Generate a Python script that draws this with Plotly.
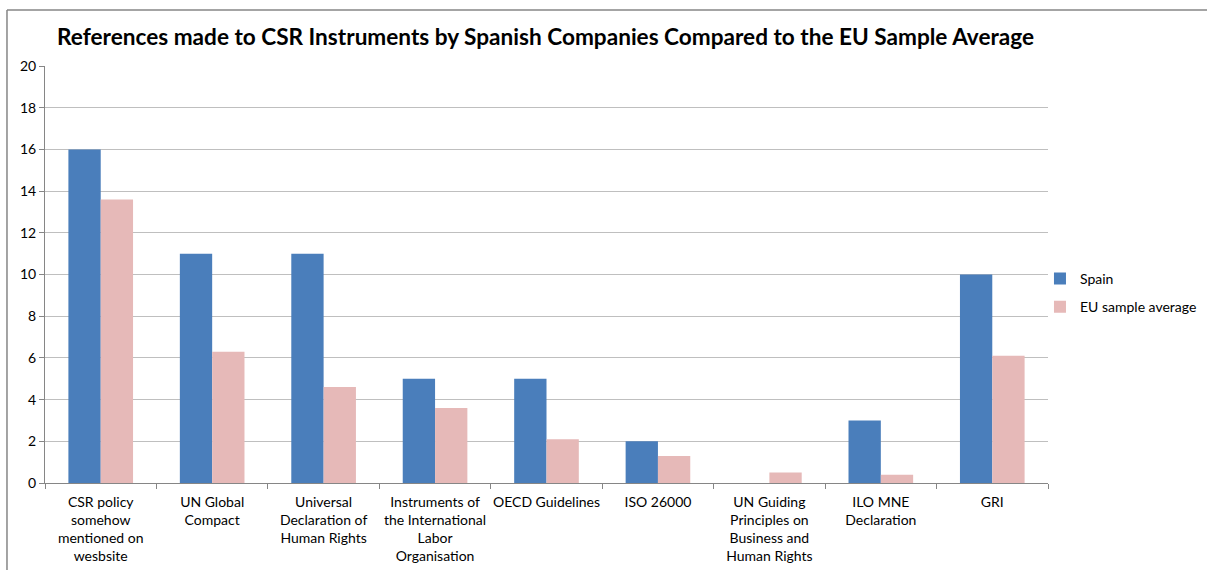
import plotly.graph_objects as go

categories = [
    "CSR policy<br>somehow<br>mentioned on<br>wesbsite",
    "UN Global<br>Compact",
    "Universal<br>Declaration of<br>Human Rights",
    "Instruments of<br>the International<br>Labor<br>Organisation",
    "OECD Guidelines",
    "ISO 26000",
    "UN Guiding<br>Principles on<br>Business and<br>Human Rights",
    "ILO MNE<br>Declaration",
    "GRI",
]
spain = [16, 11, 11, 5, 5, 2, 0, 3, 10]
eu_avg = [13.6, 6.3, 4.6, 3.6, 2.1, 1.3, 0.5, 0.4, 6.1]
y_ticks = [0, 2, 4, 6, 8, 10, 12, 14, 16, 18, 20]

FONT = "Lato, 'Open Sans', sans-serif"

fig = go.Figure()
fig.add_trace(go.Bar(name="Spain", x=categories, y=spain, legendgroup="spain",
                     marker=dict(color="#4A7EBB", line=dict(color="#4A7EBB", width=0))))
fig.add_trace(go.Bar(name="EU sample average", x=categories, y=eu_avg, legendgroup="eu",
                     marker=dict(color="#E6B9B8", line=dict(color="#E6B9B8", width=0))))

fig.update_layout(
    width=1207, height=570,
    margin=dict(l=45, r=159, t=66, b=87, autoexpand=False),
    paper_bgcolor="white", plot_bgcolor="white",
    barmode="group", bargap=0.42, bargroupgap=0,
    font=dict(family=FONT, size=14, color="#000000"),
    title=dict(text="<b>References made to CSR Instruments by Spanish Companies Compared to the EU Sample Average</b>",
               x=0.452, xanchor="center", y=0.935, yanchor="middle",
               font=dict(family=FONT, size=22.6, color="#000000")),
    legend=dict(x=0.992, xanchor="left", y=0.456, yanchor="middle",
                font=dict(family=FONT, size=14), itemwidth=30,
                traceorder="grouped", tracegroupgap=7, bgcolor="rgba(0,0,0,0)"),
    showlegend=True,
)
fig.update_xaxes(type="category", showline=True, linecolor="#868686", linewidth=1,
                 ticks="outside", tickson="boundaries", ticklen=5, tickcolor="#868686",
                 ticklabelstandoff=6,
                 tickangle=0, showgrid=False, tickfont=dict(family=FONT, size=14))
fig.update_yaxes(range=[0, 20], tickvals=y_ticks, showline=True, linecolor="#868686",
                 linewidth=1, ticks="outside", ticklen=5, tickcolor="#868686",
                 showgrid=True, gridcolor="#BFBFBF", gridwidth=1, zeroline=False,
                 tickfont=dict(family=FONT, size=14))

# outer chart frame (left and top edges)
fig.add_shape(type="line", xref="paper", yref="paper", x0=-0.0379, x1=-0.0379,
              y0=-0.25, y1=1.1343, line=dict(color="#868686", width=1.5))
fig.add_shape(type="line", xref="paper", yref="paper", x0=-0.0379, x1=1.2,
              y0=1.1343, y1=1.1343, line=dict(color="#868686", width=1.5))

fig.write_html("out.html")
